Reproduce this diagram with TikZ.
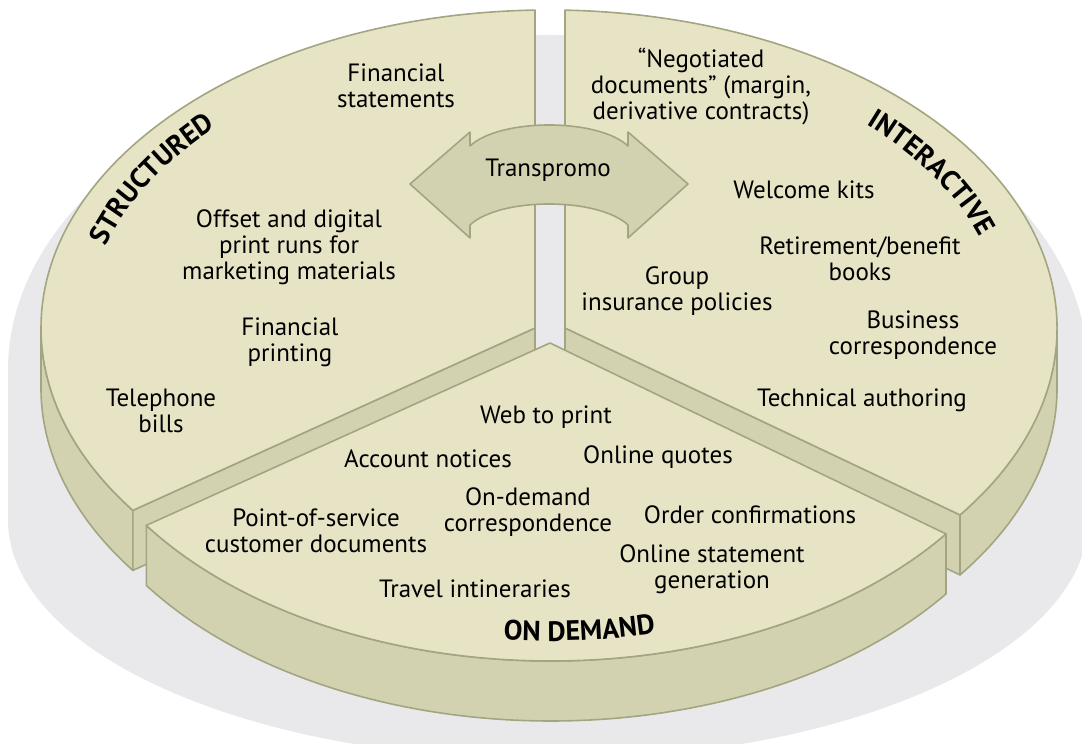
\documentclass[tikz,border=0pt]{standalone}
\usepackage{fontspec}
\setmainfont{PT Sans}
\usetikzlibrary{decorations.text}
\definecolor{topc}{HTML}{E7E4C6}
\definecolor{wallc}{HTML}{D2D2B1}
\definecolor{edgec}{HTML}{A3A580}
\definecolor{shadc}{HTML}{E9E9EC}
\newcommand\labelfont{\fontsize{28}{28}\selectfont\bfseries}
\begin{document}
\begin{tikzpicture}[x=1pt,y=1pt,line join=round,
  topface/.style={fill=topc,draw=edgec,line width=1.6pt},
  wallface/.style={fill=wallc,draw=edgec,line width=1.6pt},
  arrowshape/.style={fill=wallc,draw=edgec,line width=1.6pt},
  lbl/.style={align=center,font=\fontsize{25}{26}\selectfont,inner sep=0pt},
  curved/.style={decorate,decoration={text along path,text={|\labelfont|#1},text align=center}}]
\useasboundingbox (0,0) rectangle (1082,744);
% shadow
\fill[shadc] (8,374) arc[start angle=180,end angle=0,x radius=540,y radius=335]
  -- (1088,224) arc[start angle=0,end angle=-180,x radius=540,y radius=240] -- cycle;
% structured
\draw[wallface] (41,416) arc[start angle=180,end angle=215,x radius=508,y radius=318]
  -- ++(0,-60) arc[start angle=215,end angle=180,x radius=508,y radius=318] -- cycle;
\draw[wallface] (535,416) -- (132.9,233.6) -- (132.9,173.6) -- (535,356) -- cycle;
\draw[topface] (535,416) -- (535,733.9) arc[start angle=91.58,end angle=215,x radius=508,y radius=318] -- cycle;
% interactive
\draw[wallface] (960,229.1) arc[start angle=-36,end angle=0,x radius=508,y radius=318]
  -- ++(0,-60) arc[start angle=0,end angle=-36,x radius=508,y radius=318] -- cycle;
\draw[wallface] (565,416) -- (960,229.1) -- (960,169.1) -- (565,356) -- cycle;
\draw[topface] (565,416) -- (960,229.1) arc[start angle=-36,end angle=88.2,x radius=508,y radius=318] -- cycle;
% on demand
\draw[wallface] (146.3,218.6) arc[start angle=215,end angle=323.1,x radius=494,y radius=318]
  -- ++(0,-60) arc[start angle=323.1,end angle=215,x radius=494,y radius=318] -- cycle;
\draw[topface] (550,401) -- (146.3,218.6) arc[start angle=215,end angle=323.1,x radius=494,y radius=318] -- cycle;
% transpromo arrow
\draw[arrowshape] (410,560) -- (470,612) -- (470,598) .. controls (500,626) and (598,626) .. (628,598)
  -- (628,612) -- (688,560) -- (628,506) -- (628,519) .. controls (598,547) and (500,547) .. (470,519)
  -- (470,506) -- cycle;
\node[lbl] (transpromo) at (548,574) {Transpromo};
% curved titles
\path[curved=STRUCTURED] (549,416) ++(180:462 and 289) arc[start angle=180,end angle=124,x radius=462,y radius=289];
\path[curved=INTERACTIVE] (549,416) ++(58:455 and 284.5) arc[start angle=58,end angle=2,x radius=455,y radius=284.5];
\path[curved=ON DEMAND] (551,401) ++(253.7:463 and 298) arc[start angle=253.7,end angle=293.7,x radius=463,y radius=298];
% structured items
\node[lbl] (fs) at (396,658) {Financial\\statements};
\node[lbl] (offset) at (289,497) {Offset and digital\\print runs for\\marketing materials};
\node[lbl] (fp) at (290,402) {Financial\\printing};
\node[lbl] (tel) at (161,333) {Telephone\\bills};
% interactive items
\node[lbl] (neg) at (701,657) {“Negotiated\\documents” (margin,\\derivative contracts)};
\node[lbl] (welcome) at (804,554) {Welcome kits};
\node[lbl] (retire) at (860,485) {Retirement/benefit\\books};
\node[lbl] (group) at (677,453) {Group\\insurance policies};
\node[lbl] (business) at (913,409) {Business\\correspondence};
\node[lbl] (tech) at (862,344) {Technical authoring};
% on demand items
\node[lbl] (web) at (546,327) {Web to print};
\node[lbl] (account) at (428,285) {Account notices};
\node[lbl] (quotes) at (658,287) {Online quotes};
\node[lbl] (ondem) at (528,232) {On-demand\\correspondence};
\node[lbl] (order) at (750,229) {Order confirmations};
\node[lbl] (pos) at (316,213) {Point-of-service\\customer documents};
\node[lbl] (onstmt) at (712,175) {Online statement\\generation};
\node[lbl] (travel) at (475,155) {Travel intineraries};
\end{tikzpicture}
\end{document}
